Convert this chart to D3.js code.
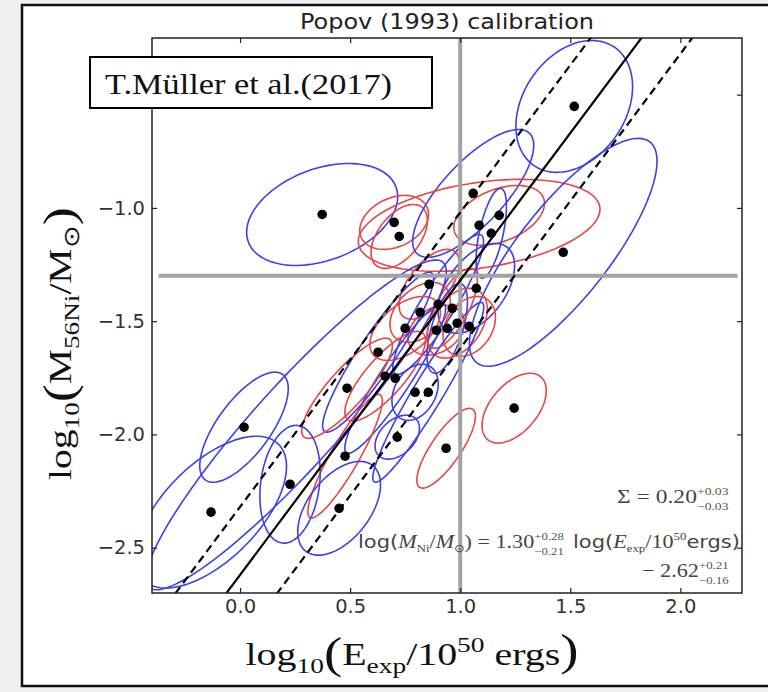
<!DOCTYPE html>
<html><head><meta charset="utf-8">
<script src="https://cdn.jsdelivr.net/npm/d3@7"></script>
<style>body{margin:0;background:#f0f0f0;} svg{display:block}</style>
</head><body>
<svg id="c" width="768" height="692"></svg>
<script>
// ---- data ----
const ptX = [1.518,0.373,0.700,0.723,1.059,1.086,1.177,1.141,1.468,1.073,0.859,0.900,0.818,0.750,0.891,0.941,0.986,1.041,0.627,0.659,0.705,0.486,0.795,0.855,1.245,0.714,0.936,0.477,0.450,0.018,0.227,-0.132,0.964];
const ptY = [-0.552,-1.029,-1.064,-1.126,-0.936,-1.077,-1.033,-1.112,-1.196,-1.355,-1.337,-1.426,-1.461,-1.532,-1.540,-1.532,-1.509,-1.523,-1.637,-1.743,-1.752,-1.796,-1.814,-1.814,-1.884,-2.012,-2.061,-2.096,-2.326,-1.968,-2.220,-2.343,-1.443];
const ellCx = [1.518,0.373,0.700,0.723,1.059,1.086,1.177,1.141,1.468,1.073,0.859,0.900,0.818,0.750,0.891,0.941,0.986,1.041,0.627,0.659,0.705,0.486,0.795,0.855,1.245,0.714,0.936,0.477,0.450,0.018,0.227,-0.132,0.964,0.255];
const ellCy = [-0.552,-1.029,-1.064,-1.126,-0.936,-1.077,-1.033,-1.112,-1.196,-1.355,-1.337,-1.426,-1.461,-1.532,-1.540,-1.532,-1.509,-1.523,-1.637,-1.743,-1.752,-1.796,-1.814,-1.814,-1.884,-2.012,-2.061,-2.096,-2.326,-1.968,-2.220,-2.343,-1.443,-1.958];
const ellColor = ['b','b','r','r','b','r','r','b','b','b','r','b','r','r','r','b','r','r','b','r','b','r','b','b','r','b','r','r','b','b','b','b','r','b'];
const ellSx = [0.265,0.343,0.156,0.128,0.275,0.549,0.206,0.069,0.426,0.174,0.137,0.206,0.137,0.160,0.128,0.092,0.137,0.119,0.252,0.183,0.229,0.206,0.105,0.252,0.146,0.101,0.133,0.169,0.188,0.201,0.137,0.343,0.114,0.682];
const ellSy = [0.291,0.225,0.119,0.141,0.282,0.203,0.132,0.198,0.503,0.198,0.154,0.309,0.132,0.141,0.110,0.198,0.154,0.132,0.353,0.198,0.331,0.221,0.124,0.397,0.154,0.097,0.176,0.273,0.207,0.243,0.260,0.335,0.176,0.728];
const ellRho = [0.3,0.35,0.3,0.5,0.75,0.35,0.4,0.6,0.8,0.5,0.6,0.9,0.4,0.5,0.3,0.6,0.4,0.3,0.92,0.8,0.93,0.85,0.3,0.95,0.5,0.4,0.8,0.9,0.5,0.7,0.2,0.6,0.7,0.93];
const xTicks = [0.0,0.5,1.0,1.5,2.0];
const yTicks = [-2.5,-2.0,-1.5,-1.0,-0.5];
const yTickLabels = ['−2.5','−2.0','−1.5','−1.0',''];   // -0.5 hidden behind the label box in the original
const xDomain = [-0.4, 2.28];
const yDomain = [-2.70, -0.25];
const fitSlope = 1.30, fitIntercept = -2.62, fitBand = 0.30;
const refX = 1.0, refY = -1.3, refYSpan = [-0.37, 2.26];

// ---- layout ----
const svg = d3.select('#c');
const L = 152, R = 742, T = 38, B = 593;
const x = d3.scaleLinear().domain(xDomain).range([L, R]);
const y = d3.scaleLinear().domain(yDomain).range([B, T]);
const blue = '#3f3fe6', red = '#e84545';
const serif = 'Liberation Serif';

svg.append('rect').attr('x',22).attr('y',5).attr('width',800).attr('height',681)
  .attr('fill','#fff').attr('stroke','#111').attr('stroke-width',2.5);

svg.append('defs').append('clipPath').attr('id','clip')
  .append('rect').attr('x',L).attr('y',T).attr('width',R-L).attr('height',B-T);

const plot = svg.append('g').attr('clip-path','url(#clip)');

// ellipses
const ts = d3.range(0, 361, 3).map(d => d*Math.PI/180);
const line = d3.line().x(d=>x(d[0])).y(d=>y(d[1])).curve(d3.curveLinearClosed);
ellCx.forEach((cx,i) => {
  const cy = ellCy[i], sx = ellSx[i], sy = ellSy[i], r = ellRho[i], q = Math.sqrt(1-r*r);
  const pts = ts.map(t => [cx + sx*Math.cos(t), cy + sy*(r*Math.cos(t) + q*Math.sin(t))]);
  plot.append('path').attr('d', line(pts)).attr('fill','none')
    .attr('stroke', ellColor[i]==='b'?blue:red).attr('stroke-width',1.6);
});

// reference gray lines
plot.append('line').attr('x1',x(refX)).attr('x2',x(refX)).attr('y1',T).attr('y2',B)
  .attr('stroke','#a3a3a3').attr('stroke-width',4);
plot.append('line').attr('x1',x(refYSpan[0])).attr('x2',x(refYSpan[1])).attr('y1',y(refY)).attr('y2',y(refY))
  .attr('stroke','#a3a3a3').attr('stroke-width',4);

// fit lines
[0, fitBand, -fitBand].forEach((off,k) => {
  const xs = [xDomain[0], xDomain[1]];
  plot.append('line')
    .attr('x1',x(xs[0])).attr('y1',y(fitSlope*xs[0]+fitIntercept+off))
    .attr('x2',x(xs[1])).attr('y2',y(fitSlope*xs[1]+fitIntercept+off))
    .attr('stroke','#000').attr('stroke-width',2.2)
    .attr('stroke-dasharray', k===0 ? null : '8,5');
});

// points
plot.selectAll('circle.pt').data(ptX).enter().append('circle')
  .attr('cx',(d)=>x(d)).attr('cy',(d,i)=>y(ptY[i])).attr('r',4.8).attr('fill','#000');

// frame
svg.append('rect').attr('x',L).attr('y',T).attr('width',R-L).attr('height',B-T)
  .attr('fill','none').attr('stroke','#222').attr('stroke-width',1.5);

// axes
const fmt = d3.format('.1f');
const ax = (g, axis) => { g.call(axis); g.select('.domain').remove();
  g.selectAll('.tick line').attr('stroke','#222').attr('stroke-width',1.2);
  g.selectAll('text').attr('fill','#333').style('font-family','DejaVu Sans').style('font-size','19.5px'); };
svg.append('g').attr('transform',`translate(0,${B})`)
  .call(g=>ax(g, d3.axisBottom(x).tickValues(xTicks).tickSize(-5).tickPadding(6).tickFormat(fmt)));
svg.append('g').attr('transform',`translate(0,${T})`)
  .call(g=>ax(g, d3.axisTop(x).tickValues(xTicks).tickSize(-5).tickFormat('')));
svg.append('g').attr('transform',`translate(${L},0)`)
  .call(g=>ax(g, d3.axisLeft(y).tickValues(yTicks).tickSize(-5).tickPadding(7).tickFormat((d,i)=>yTickLabels[i])));
svg.append('g').attr('transform',`translate(${R},0)`)
  .call(g=>ax(g, d3.axisRight(y).tickValues(yTicks).tickSize(-5).tickFormat('')));

// title
svg.append('text').attr('x',447).attr('y',29).attr('text-anchor','middle')
  .style('font-family','DejaVu Sans').style('font-size','21px').attr('fill','#222')
  .attr('textLength',294).attr('lengthAdjust','spacingAndGlyphs')
  .text('Popov (1993) calibration');

// annotation box
svg.append('rect').attr('x',90).attr('y',57).attr('width',342).attr('height',51)
  .attr('fill','#fff').attr('stroke','#000').attr('stroke-width',2);
svg.append('text').attr('x',105).attr('y',94)
  .style('font-family',serif).style('font-size','30px').attr('fill','#111')
  .attr('textLength',287).attr('lengthAdjust','spacingAndGlyphs')
  .text('T.Müller et al.(2017)');

// axis labels (built from tspans, then stretched to the original's length)
function label(g, parts){
  const t = g.append('text').attr('x',0).attr('y',0).style('font-family',serif)
    .style('font-size','32px').attr('fill','#111');
  parts.forEach(p => {
    const s = t.append('tspan').text(p.t);
    if (p.dy) s.attr('dy', p.dy);
    if (p.size) s.style('font-size', p.size+'px');
  });
  return t;
}
const ylg = svg.append('g');
const ylt = label(ylg, [{t:'log'},{t:'10',dy:8,size:22},{t:'(',dy:-5,size:44},{t:'M',dy:-3},{t:'56Ni',dy:8,size:22},{t:'/M',dy:-8},{t:'⊙',dy:8,size:22},{t:')',dy:-5,size:44}]);
{
  const bb = ylt.node().getBBox(); const k = 272/bb.width;
  ylt.attr('x', -bb.width/2);
  ylg.attr('transform', `translate(71,344) rotate(-90) scale(${k},1)`);
}
const xlg = svg.append('g');
const xlt = label(xlg, [{t:'log'},{t:'10',dy:8,size:22},{t:'(',dy:-5,size:44},{t:'E',dy:-3},{t:'exp',dy:8,size:22},{t:'/10',dy:-8},{t:'50',dy:-13,size:22},{t:' ergs',dy:13},{t:')',dy:0,size:44}]);
{
  const bb = xlt.node().getBBox(); const k = 333/bb.width;
  xlt.attr('x', -bb.width/2);
  xlg.attr('transform', `translate(412,665) scale(${k},1)`);
}

// math annotation lines (right-aligned, stretched to the original's width)
function mathLine(xr, yb, target, segs){
  const g = svg.append('g');
  let cur = 0;
  segs.forEach(s => {
    if (s.stack){
      const a = g.append('text').attr('x',cur).attr('y',-8).style('font-family',serif).style('font-size','11px').attr('fill','#555').text(s.stack[0]);
      const b = g.append('text').attr('x',cur).attr('y',7).style('font-family',serif).style('font-size','11px').attr('fill','#555').text(s.stack[1]);
      cur += Math.max(a.node().getComputedTextLength(), b.node().getComputedTextLength()) + 2;
    } else {
      const t = g.append('text').attr('x',cur).attr('y',s.dy||0)
        .style('font-family', s.f||serif).style('font-size',(s.size||19)+'px')
        .style('font-style', s.it?'italic':'normal').attr('fill','#444').attr('xml:space','preserve').text(s.t);
      cur += t.node().getComputedTextLength();
    }
  });
  const k = target / cur;
  g.attr('transform',`translate(${xr-target},${yb}) scale(${k},1)`);
}
mathLine(731, 503, 114, [{t:'Σ = 0.20'},{stack:['+0.03','−0.03']}]);
mathLine(740, 548, 382, [{t:'log(', f:'DejaVu Sans', size:18},{t:'M', it:true},{t:'Ni', size:11, dy:4},{t:'/'},{t:'M', it:true},{t:'⊙', size:11, dy:4},{t:') = 1.30'},{stack:['+0.28','−0.21']},{t:' log(', f:'DejaVu Sans', size:18},{t:'E', it:true},{t:'exp', size:11, dy:4},{t:'/10'},{t:'50', size:11, dy:-8},{t:'ergs)', f:'DejaVu Sans', size:18}]);
mathLine(731, 577, 89, [{t:'− 2.62'},{stack:['+0.21','−0.16']}]);
</script>
</body></html>
